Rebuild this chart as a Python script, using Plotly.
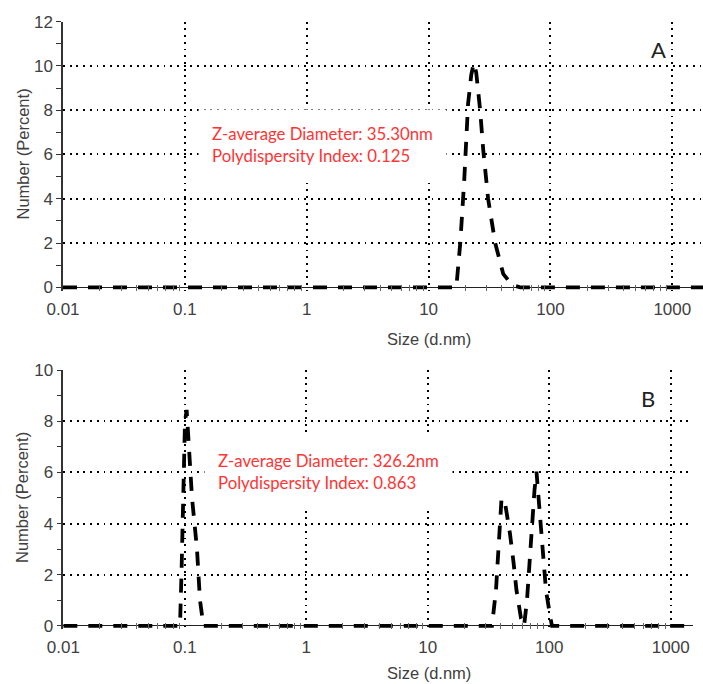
import plotly.graph_objects as go

# ---- data ----
size_a = [0.01, 16.9, 18.2, 19.6, 21.1, 22.4, 23.5, 24.6, 26.5, 28.1, 30.8, 35.2, 41.0, 48.5, 56.5, 2000]
number_a = [0, 0, 2.0, 4.8, 8.3, 9.6, 10.13, 9.7, 8.0, 6.2, 4.0, 2.0, 0.6, 0.1, 0, 0]

size_b = [0.01, 0.0913, 0.0939, 0.0957, 0.0976, 0.1004, 0.1036, 0.1083, 0.1147, 0.1260, 0.1334, 0.1425,
          33.76, 36.42, 37.82, 38.77, 40.42, 42.78, 47.49, 50.74, 53.70, 58.50, 62.0,
          65.55, 68.08, 70.70, 72.74, 75.55, 78.46, 83.04, 87.07, 89.59, 93.94, 102.3, 105.3, 2000]
number_b = [0, 0, 2.0, 4.0, 6.0, 8.0, 8.44, 7.0, 5.0, 3.0, 1.0, 0,
            0, 1.4, 2.5, 3.6, 4.95, 4.95, 3.6, 2.5, 1.4, 0.3, 0,
            1.0, 2.2, 3.2, 4.2, 5.3, 6.03, 4.6, 3.5, 2.5, 1.4, 0.3, 0, 0]

x_tick_vals = [0.01, 0.1, 1, 10, 100, 1000]
x_tick_text = ["0.01", "0.1", "1", "10", "100", "1000"]
minor_x = [m * d for d in [0.01, 0.1, 1, 10, 100, 1000] for m in range(2, 10)]

label_a = "Z-average Diameter: 35.30nm<br>Polydispersity Index: 0.125"
label_b = "Z-average Diameter: 326.2nm<br>Polydispersity Index: 0.863"
y_title = "Number (Percent)"
x_title = "Size (d.nm)"

W, H = 703, 684
GRID = dict(showgrid=True, gridcolor="black", gridwidth=1.9, griddash="1.9px,4.8px")
TICKFONT = dict(family="Liberation Sans, Arial, sans-serif", size=17, color="#404040")

def xaxis(dom, rng, anchor):
    return dict(type="log", domain=dom, range=rng, anchor=anchor, automargin=False,
                tickvals=x_tick_vals, ticktext=x_tick_text,
                showline=False, zeroline=False, ticks="", tickfont=TICKFONT, ticklabelstandoff=6,
                minor=dict(tickvals=minor_x, ticks="inside", ticklen=6, tickcolor="#666", tickwidth=1,
                           showgrid=False),
                **GRID)

def yaxis(dom, rng, anchor):
    return dict(domain=dom, range=rng, anchor=anchor, automargin=False, tick0=0, dtick=2,
                showline=True, linecolor="#333", linewidth=1.5,
                ticks="outside", ticklen=5, tickcolor="#333", tickwidth=1.2,
                minor=dict(dtick=1, ticks="outside", ticklen=5, tickcolor="#333", tickwidth=1.2, showgrid=False),
                zeroline=True, zerolinecolor="#222", zerolinewidth=1.2,
                tickfont=TICKFONT, **GRID)

LINE = dict(color="black", width=3.8, dash="14px,11px")

fig = go.Figure()
fig.add_trace(go.Scatter(x=size_a, y=number_a, mode="lines", line=LINE, xaxis="x", yaxis="y",
                         showlegend=False, hoverinfo="skip"))
fig.add_trace(go.Scatter(x=size_b, y=number_b, mode="lines", line=LINE, xaxis="x2", yaxis="y2",
                         showlegend=False, hoverinfo="skip"))

top_dom_y = [1 - 290.6 / H, 1 - 21.7 / H]
bot_dom_y = [1 - 629.3 / H, 1 - 370.0 / H]

ann = []
RED = dict(family="Lato, sans-serif", size=16.8, color="#ff3434")
ann.append(dict(xref="paper", yref="paper", x=198 / W, y=1 - 144.5 / H, xanchor="left", yanchor="middle",
                text=label_a, align="left", showarrow=False, font=RED, bgcolor="white", borderpad=13))
ann.append(dict(xref="paper", yref="paper", x=204 / W, y=1 - 471 / H, xanchor="left", yanchor="middle",
                text=label_b, align="left", showarrow=False, font=RED, bgcolor="white", borderpad=13))
LET = dict(family="Lato, sans-serif", size=22, color="#222")
ann.append(dict(xref="paper", yref="paper", x=658 / W, y=1 - 50 / H, xanchor="center", yanchor="middle",
                text="A", showarrow=False, font=LET))
ann.append(dict(xref="paper", yref="paper", x=648 / W, y=1 - 398 / H, xanchor="center", yanchor="middle",
                text="B", showarrow=False, font=LET))
TF = dict(family="Liberation Sans, Arial, sans-serif", size=16.5, color="#404040")
for yc in (154.5, 498):
    ann.append(dict(xref="paper", yref="paper", x=22 / W, y=1 - yc / H, xanchor="center", yanchor="middle",
                    text=y_title, textangle=-90, showarrow=False, font=TF))
for yc in (339, 673):
    ann.append(dict(xref="paper", yref="paper", x=429 / W, y=1 - yc / H, xanchor="center", yanchor="middle",
                    text=x_title, showarrow=False, font=TF))

fig.update_layout(
    width=W, height=H, margin=dict(l=0, r=0, t=0, b=0, autoexpand=False),
    paper_bgcolor="white", plot_bgcolor="white",
    xaxis=xaxis([63 / W, 1.0], [-2, 3.252], "y"),
    yaxis=yaxis(top_dom_y, [-0.15, 12], "x"),
    xaxis2=xaxis([63.3 / W, 693 / W], [-2, 3.183], "y2"),
    yaxis2=yaxis(bot_dom_y, [-0.13, 10], "x2"),
    annotations=ann,
)

fig.write_html("out.html")
